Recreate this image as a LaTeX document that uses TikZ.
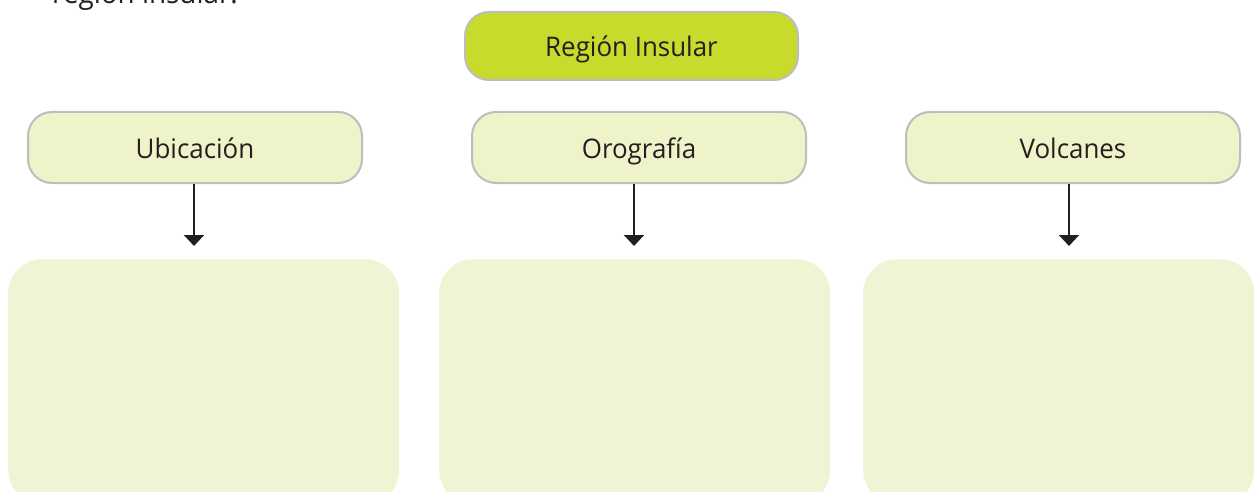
\documentclass[tikz,border=0pt]{standalone}
\usepackage{fontspec}
\setmainfont{Open Sans}[FakeStretch=0.96]
\usetikzlibrary{arrows.meta}
\definecolor{topfill}{HTML}{C8DA2B}
\definecolor{midfill}{HTML}{EEF3C9}
\definecolor{boxfill}{HTML}{F0F4D5}
\definecolor{edgegrey}{HTML}{BDBDBD}
\definecolor{ink}{HTML}{231F20}
\tikzset{
  lbl/.style={font=\fontsize{27}{32}\selectfont, text=ink, text height=27pt, text depth=6pt},
  topbox/.style={lbl, draw=edgegrey, line width=2pt, fill=topfill, rounded corners=24pt,
    minimum width=333pt, minimum height=68pt, inner sep=0pt},
  midbox/.style={lbl, draw=edgegrey, line width=2pt, fill=midfill, rounded corners=24pt,
    minimum width=334pt, minimum height=71pt, inner sep=0pt},
  answerbox/.style={fill=boxfill, rounded corners=34pt, minimum width=391pt, minimum height=245pt, inner sep=0pt},
  link/.style={draw=ink, line width=2pt, -{Triangle[width=20pt,length=11pt]}},
}
\begin{document}
\begin{tikzpicture}[x=1pt,y=-1pt]
\useasboundingbox (0,0) rectangle (1255,492);
\clip (0,0) rectangle (1255,492);
\node[anchor=base west, inner sep=0pt, font=\fontsize{29}{34}\selectfont, text=ink] (title) at (52,4) {región insular.};
\node[topbox] (top) at (631.5,46) {Región Insular};
\node[midbox] (ubi) at (195,147.5) {Ubicación};
\node[midbox] (oro) at (639,147.5) {Orografía};
\node[midbox] (vol) at (1073,147.5) {Volcanes};
\node[answerbox, anchor=north west] (b1) at (8,259) {};
\node[answerbox, anchor=north west] (b2) at (439,259) {};
\node[answerbox, anchor=north west] (b3) at (863,259) {};
\coordinate (e1) at (194,246);
\coordinate (e2) at (634,246);
\coordinate (e3) at (1069,246);
\draw[link] (ubi.south -| e1) -- (e1);
\draw[link] (oro.south -| e2) -- (e2);
\draw[link] (vol.south -| e3) -- (e3);
\end{tikzpicture}
\end{document}
